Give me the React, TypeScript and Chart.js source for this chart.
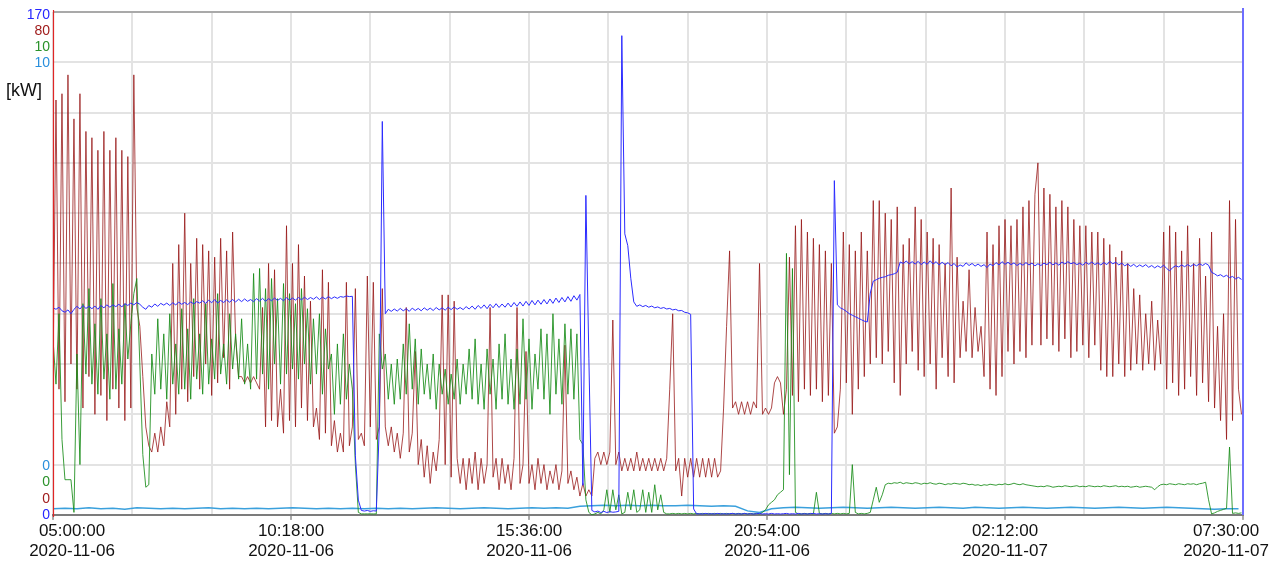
import React, { useEffect, useRef } from 'react';
import { Chart, registerables } from 'chart.js';

Chart.register(...registerables);

// time axis: minutes after 2020-11-06 05:00:00
const X_MAX_MIN = 1590;
const GRID_STEP_MIN = 106;
const LABEL_STEP_MIN = 318;
const STEP_MIN = 4; // sampling of red / green / blue series
const LB_STEP_MIN = 16; // sampling of light blue series

const TIME_LABELS = ['05:00:00', '10:18:00', '15:36:00', '20:54:00', '02:12:00', '07:30:00'];
const DATE_LABELS = ['2020-11-06', '2020-11-06', '2020-11-06', '2020-11-06', '2020-11-07', '2020-11-07'];

// axis ranges [blue, red, green, light blue]
const AXIS_IDS = ['yB', 'yR', 'yG', 'yL'];
const AXIS_MAX = [170, 80, 10, 10];
const AXIS_MIN = [0, 0, 0, 0];
const AXIS_COLORS = ['#2626ff', '#a01c1c', '#2a922a', '#2a8fdc'];

const RED = [
  22, 66, 20, 67, 18, 70, 24, 63, 20, 67,
  17, 61, 22, 60, 16, 58, 19, 61, 15, 58,
  20, 60, 17, 58, 15, 57, 17, 70, 33, 30,
  22, 14, 11, 10, 13, 10, 14, 11, 18, 14,
  40, 16, 43, 20, 48, 18, 40, 22, 44, 20,
  43, 24, 42, 19, 41, 21, 44, 25, 42, 20,
  45, 28, 22, 22, 21, 22, 21, 22, 21, 20,
  33, 14, 40, 15, 39, 14, 20, 13, 46, 15,
  40, 14, 43, 17, 38, 15, 34, 14, 17, 12,
  39, 13, 37, 11, 15, 10, 13, 10, 37, 11,
  14, 36, 12, 13, 11, 38, 14, 37, 12, 14,
  36, 14, 11, 14, 10, 13, 9, 13, 33, 10,
  13, 26, 8, 12, 6, 11, 5, 10, 7, 12,
  35, 8, 35, 6, 34, 9, 5, 9, 4, 9,
  5, 10, 4, 9, 5, 8, 33, 6, 9, 4,
  9, 5, 8, 4, 9, 33, 5, 8, 26, 5,
  8, 4, 9, 5, 8, 4, 7, 5, 8, 4,
  7, 27, 5, 7, 4, 6, 3, 5, 3, 4,
  3, 9, 10, 8, 10, 8, 10, 31, 8, 10,
  7, 9, 7, 9, 7, 10, 7, 9, 7, 9,
  7, 9, 7, 9, 7, 9, 20, 32, 7, 9,
  3, 9, 6, 9, 6, 9, 6, 9, 6, 9,
  6, 9, 6, 7, 17, 30, 42, 17, 18, 16,
  18, 16, 18, 16, 18, 17, 40, 16, 17, 16,
  17, 21, 22, 21, 16, 20, 41, 19, 46, 18,
  47, 20, 45, 19, 44, 20, 43, 18, 42, 19,
  40, 13, 14, 20, 45, 21, 43, 16, 42, 20,
  45, 22, 42, 24, 50, 25, 50, 24, 48, 26,
  47, 21, 49, 19, 43, 24, 44, 26, 49, 23,
  47, 22, 45, 24, 44, 20, 43, 25, 40, 22,
  52, 21, 41, 25, 34, 26, 39, 25, 33, 26,
  30, 22, 45, 20, 43, 19, 46, 22, 47, 26,
  46, 24, 47, 26, 49, 25, 50, 27, 51, 56,
  27, 52, 28, 51, 27, 49, 26, 50, 28, 49,
  25, 47, 26, 46, 27, 46, 25, 45, 27, 45,
  23, 44, 22, 43, 22, 41, 24, 42, 22, 40,
  23, 36, 24, 35, 23, 32, 24, 34, 23, 31,
  24, 45, 20, 46, 21, 45, 19, 42, 20, 46,
  22, 40, 19, 44, 21, 38, 18, 45, 17, 30,
  15, 32, 12, 50, 15, 47, 20, 16,
];

const GREEN = [
  3.5, 2.6, 4.0, 1.5, 0.7, 0.7, 0.7, 0.05, 3.2, 1.0,
  4.2, 2.8, 4.5, 2.6, 3.8, 2.4, 4.3, 2.7, 3.6, 2.3,
  4.6, 2.5, 3.7, 2.6, 4.2, 3.1, 3.8, 4.4, 4.7, 3.0,
  1.2, 0.55, 0.6, 3.2, 2.4, 3.9, 2.5, 3.6, 2.3, 4.0,
  2.6, 3.4, 2.4, 4.1, 2.5, 3.7, 2.3, 4.3, 2.7, 3.6,
  2.4, 4.2, 2.6, 3.5, 2.7, 4.4, 2.8, 3.4, 2.6, 4.0,
  2.9, 3.6, 2.7, 3.9, 2.6, 3.4, 2.5, 4.8, 2.7, 4.9,
  2.8, 4.5, 2.5, 4.7, 3.0, 4.3, 2.6, 4.6, 2.8, 4.4,
  2.9, 4.2, 2.7, 4.5, 3.0, 4.1, 2.6, 3.9, 2.8, 4.0,
  2.4, 3.7, 2.9, 3.2, 2.0, 3.4, 2.2, 3.6, 2.3, 3.0,
  2.5, 1.0, 0.05, 0.02, 0.02, 0.02, 0.02, 0.02, 0.02, 3.6,
  2.9, 3.2, 2.3, 3.0, 2.2, 3.1, 2.3, 3.4, 2.4, 3.8,
  2.5, 3.5, 2.2, 3.3, 2.4, 3.0, 2.3, 3.2, 2.1, 3.0,
  2.4, 2.9, 2.2, 2.8, 2.3, 3.1, 2.2, 3.0, 2.4, 3.3,
  2.3, 3.5, 2.2, 3.0, 2.1, 3.3, 2.4, 3.1, 2.1, 3.4,
  2.3, 3.6, 2.2, 3.1, 2.1, 3.3, 2.2, 3.9, 2.3, 3.5,
  2.1, 3.2, 2.5, 3.7, 2.3, 3.6, 2.0, 4.0, 2.4, 3.5,
  2.2, 3.8, 2.4, 3.7, 2.3, 3.6, 1.5, 1.4, 0.3, 0.05,
  0.0, 0.02, 0.05, 0.02, 0.1, 0.5, 0.05, 0.5, 0.1, 0.4,
  0.02, 0.05, 0.45, 0.1, 0.5, 0.05, 0.1, 0.5, 0.05, 0.45,
  0.05, 0.6, 0.1, 0.4, 0.05, 0.02, 0.02, 0.03, 0.02, 0.03,
  0.02, 0.03, 0.02, 0.03, 0.02, 0.03, 0.02, 0.03, 0.02, 0.03,
  0.02, 0.03, 0.02, 0.03, 0.02, 0.03, 0.02, 0.03, 0.02, 0.03,
  0.02, 0.03, 0.02, 0.03, 0.02, 0.03, 0.02, 0.05, 0.1, 0.2,
  0.25, 0.3, 0.4, 0.45, 0.5, 5.2, 0.8, 4.9, 0.05, 0.02,
  0.02, 0.03, 0.02, 0.03, 0.02, 0.45, 0.03, 0.02, 0.03, 0.02,
  0.03, 0.02, 0.03, 0.02, 0.03, 0.02, 0.03, 1.0, 0.05, 0.02,
  0.03, 0.02, 0.03, 0.05, 0.3, 0.55, 0.25, 0.4, 0.6, 0.63,
  0.62, 0.64, 0.63, 0.65, 0.62, 0.64, 0.63, 0.62, 0.64, 0.63,
  0.61, 0.63, 0.62, 0.64, 0.62, 0.61, 0.63, 0.62, 0.6, 0.62,
  0.61, 0.63, 0.62, 0.61, 0.63, 0.62, 0.6, 0.61, 0.59, 0.6,
  0.58, 0.6, 0.59, 0.61, 0.6, 0.59, 0.61, 0.6, 0.62, 0.6,
  0.61, 0.63, 0.61, 0.6, 0.62, 0.6, 0.59, 0.58, 0.57, 0.56,
  0.57, 0.56, 0.58, 0.57, 0.55, 0.56, 0.57, 0.56, 0.58, 0.57,
  0.56, 0.57, 0.58, 0.56, 0.57, 0.56, 0.58, 0.57, 0.56, 0.57,
  0.56, 0.58, 0.57, 0.56, 0.57, 0.58, 0.56, 0.57, 0.56, 0.57,
  0.55, 0.56, 0.57, 0.55, 0.56, 0.57, 0.56, 0.55, 0.5, 0.56,
  0.6, 0.61, 0.6, 0.62, 0.61, 0.6, 0.62, 0.61, 0.6, 0.62,
  0.61, 0.62, 0.6, 0.62, 0.63, 0.65, 0.3, 0.02, 0.04, 0.07,
  0.09, 0.11, 0.13, 1.35, 0.03, 0.04, 0.03, 0.04,
];

const BLUE = [
  70, 69.5, 70.2, 69, 68.5, 69.3, 68, 69.5, 70.5, 69.6,
  70.8, 69.8, 70.5, 69.7, 70.6, 69.5, 70.8, 70, 71, 70.2,
  71, 70.4, 71.2, 70.3, 71.4, 70.8, 71.6, 71, 71.8, 71.2,
  70.2, 69.5, 70.8, 70.2, 71.3, 70.5, 71.5, 70.9, 71.6, 70.8,
  71.7, 71, 71.9, 71.2, 71.8, 71.1, 72, 71.3, 72.1, 71.6,
  72.4, 71.5, 72.6, 71.7, 72.8, 71.6, 72.5, 71.8, 72.7, 71.9,
  72.8, 72, 72.9, 72.1, 73, 72.2, 72.8, 72.1, 73.1, 72.3,
  73.2, 72.2, 73.1, 72.4, 73.3, 72.5, 73.2, 72.4, 73.4, 72.6,
  73.3, 72.6, 73.5, 72.7, 73.6, 72.8, 73.5, 72.9, 73.7, 72.8,
  73.6, 73, 73.8, 73.1, 73.7, 73.2, 73.8, 73.6, 74, 73.8,
  73.9, 20, 5, 1.5, 1.3, 1.5, 1.2, 1.4, 1.3, 30,
  133, 68, 69.5, 68.8, 69.6, 68.9, 69.8, 69, 69.7, 68.8,
  69.9, 69.1, 69.8, 69, 70, 69.2, 69.9, 69.1, 70.1, 69.3,
  70, 69.2, 70.2, 69.4, 70.3, 69.5, 70.1, 69.4, 70.4, 69.6,
  70.6, 69.5, 70.8, 69.8, 71, 69.7, 71.2, 70, 71.4, 70.1,
  71.3, 70.2, 71.6, 70.3, 71.8, 70.5, 72, 70.6, 72.2, 70.8,
  72.5, 71, 72.6, 71.2, 72.8, 71.3, 73, 71.5, 73.3, 71.8,
  73.5, 72, 73.8, 72.2, 74.1, 72.6, 74.5, 10, 108, 53,
  1.5, 1.0, 1.3, 0.8, 1.2, 0.8, 1.1, 0.9, 1.0, 1.2,
  162, 95, 91, 80, 72, 70.5, 71, 70.4, 70.8, 70.2,
  70.6, 70, 70.3, 69.8, 70.1, 69.6, 69.8, 69.3, 69.5, 69,
  69.1, 68.5, 68.3, 67.8, 2, 0.3, 0.4, 0.3, 0.5, 0.3,
  0.4, 0.3, 0.5, 0.3, 0.4, 0.3, 0.4, 0.5, 0.3, 0.4,
  0.3, 0.5, 0.3, 0.4, 0.3, 0.4, 0.5, 0.3, 0.4, 0.3,
  0.5, 0.3, 0.4, 0.3, 0.4, 0.5, 0.3, 0.4, 0.3, 0.5,
  0.3, 0.4, 0.3, 0.4, 0.5, 0.3, 0.4, 0.3, 0.4, 0.3,
  0.5, 113, 71, 70, 69.5, 68.8, 68, 67.5, 67, 66.5,
  66, 65.5, 65.2, 75, 79, 79.5, 80, 80.3, 80.5, 81,
  81.2, 81.5, 82, 85.5, 85, 85.8, 84.9, 85.6, 84.8, 85.7,
  84.6, 85.5, 84.7, 85.9, 84.8, 85.6, 84.5, 85.4, 84.6, 85.3,
  84.2, 85, 83.8, 84.5, 84, 85.2, 84.3, 85, 84.1, 84.8,
  84, 84.6, 83.6, 84.8, 84.2, 85.3, 84.5, 85.6, 84.7, 85.4,
  84.6, 85.2, 84.3, 85, 84.4, 85.3, 84.5, 85.1, 84.2, 84.9,
  84.3, 85.1, 84.6, 85.4, 84.5, 85.2, 84.4, 85.5, 84.8, 85.6,
  84.9, 85.3, 84.6, 85.1, 84.4, 85.4, 84.7, 85.5, 84.6, 85.2,
  84.5, 85.3, 84.6, 85.7, 84.9, 85.4, 84.5, 85.1, 84.2, 84.8,
  84, 84.7, 83.8, 84.5, 83.9, 84.6, 83.7, 84.3, 83.5, 84.2,
  83.6, 84.4, 83.3, 82.5, 83.6, 84.2, 83.8, 84.5, 83.9, 84.6,
  84, 84.7, 84.2, 84.9, 84.3, 85, 84.4, 82, 81.5, 80.8,
  81.2, 80.5, 81, 80.2, 80.6, 79.8, 80.3, 79.6,
];

const LIGHT_BLUE = [
  0.12, 0.13, 0.12, 0.14, 0.12, 0.13, 0.11, 0.14, 0.13, 0.12,
  0.13, 0.12, 0.13, 0.14, 0.12, 0.13, 0.12, 0.13, 0.12, 0.13,
  0.14, 0.13, 0.12, 0.13, 0.12, 0.13, 0.12, 0.13, 0.12, 0.13,
  0.12, 0.13, 0.14, 0.13, 0.12, 0.13, 0.14, 0.13, 0.12, 0.13,
  0.14, 0.13, 0.14, 0.13, 0.17, 0.18, 0.19, 0.18, 0.19, 0.18,
  0.19, 0.18, 0.18, 0.19, 0.18, 0.17, 0.18, 0.17, 0.08, 0.05,
  0.12, 0.14, 0.15, 0.14, 0.13, 0.14, 0.15, 0.14, 0.13, 0.14,
  0.15, 0.14, 0.13, 0.14, 0.15, 0.14, 0.13, 0.15, 0.14, 0.13,
  0.14, 0.15, 0.14, 0.13, 0.14, 0.15, 0.14, 0.13, 0.14, 0.15,
  0.14, 0.13, 0.14, 0.15, 0.14, 0.13, 0.12, 0.11, 0.12, 0.12,
];

const toPoints = (vals: number[], step: number) => vals.map((v, i) => ({ x: i * step, y: v }));

const FONT = '"Liberation Sans", Arial, sans-serif';
const TICK_FONT_SIZE = 17;
const TICK_LINE_HEIGHT = 1.15;

const framePlugin = {
  id: 'frame',
  afterDatasetsDraw(chart: any) {
    const { ctx, chartArea: a } = chart;
    ctx.save();
    ctx.strokeStyle = '#a9a9a9';
    ctx.lineWidth = 2;
    ctx.beginPath();
    ctx.moveTo(a.left, a.top);
    ctx.lineTo(a.right, a.top);
    ctx.stroke();
    ctx.strokeStyle = '#e02626';
    ctx.lineWidth = 1.2;
    ctx.beginPath();
    ctx.moveTo(a.left + 0.5, a.top - 2);
    ctx.lineTo(a.left + 0.5, a.bottom + 2);
    ctx.stroke();
    ctx.strokeStyle = '#6e6eff';
    ctx.lineWidth = 2;
    ctx.beginPath();
    ctx.moveTo(a.right, a.top - 4);
    ctx.lineTo(a.right, a.bottom);
    ctx.stroke();
    ctx.restore();
  },
  afterDraw(chart: any) {
    const { ctx, chartArea: a } = chart;
    ctx.save();
    ctx.font = `14px ${FONT}`;
    ctx.textAlign = 'right';
    ctx.textBaseline = 'middle';
    const x = a.left - 3;
    AXIS_IDS.forEach((id, k) => {
      const s = chart.scales[id];
      ctx.fillStyle = AXIS_COLORS[k];
      ctx.fillText(String(s.max), x, a.top + 3 + k * 16);
    });
    const bottomOrder = [3, 2, 1, 0];
    bottomOrder.forEach((k, j) => {
      const s = chart.scales[AXIS_IDS[k]];
      ctx.fillStyle = AXIS_COLORS[k];
      ctx.fillText(String(s.min), x, a.bottom - 49 + j * 16.5);
    });
    ctx.fillStyle = '#111';
    ctx.font = `18px ${FONT}`;
    ctx.textAlign = 'left';
    ctx.fillText('[kW]', 6, 91);

    // first and last time labels are kept inside the canvas (shifted inward)
    const xs = chart.scales.x;
    const lh = TICK_FONT_SIZE * TICK_LINE_HEIGHT;
    const top = a.bottom + 5 + 2;
    ctx.font = `${TICK_FONT_SIZE}px ${FONT}`;
    ctx.fillStyle = '#111';
    ctx.textAlign = 'center';
    const edges = [
      { idx: 0, shift: 19 },
      { idx: TIME_LABELS.length - 1, shift: -17 },
    ];
    edges.forEach(({ idx, shift }) => {
      const px = xs.getPixelForValue(idx * LABEL_STEP_MIN) + shift;
      ctx.fillText(TIME_LABELS[idx], px, top + lh / 2);
      ctx.fillText(DATE_LABELS[idx], px, top + lh * 1.5);
    });
    ctx.restore();
  },
};

export default function App() {
  const ref = useRef<HTMLCanvasElement | null>(null);

  useEffect(() => {
    if (!ref.current) return;
    const gridColor = '#e3e3e3';
    const lastTickValue = (TIME_LABELS.length - 1) * LABEL_STEP_MIN;
    const chart = new Chart(ref.current, {
      type: 'line',
      data: {
        datasets: [
          {
            label: 'blue',
            data: toPoints(BLUE, STEP_MIN),
            yAxisID: 'yB',
            borderColor: '#2b2bff',
            borderWidth: 1,
            pointRadius: 0,
            order: 0,
          },
          {
            label: 'green',
            data: toPoints(GREEN, STEP_MIN),
            yAxisID: 'yG',
            borderColor: 'rgba(24,140,24,0.85)',
            borderWidth: 1,
            pointRadius: 0,
            order: 1,
          },
          {
            label: 'red',
            data: toPoints(RED, STEP_MIN),
            yAxisID: 'yR',
            borderColor: 'rgba(150,20,20,0.78)',
            borderWidth: 1,
            pointRadius: 0,
            order: 2,
          },
          {
            label: 'lightblue',
            data: toPoints(LIGHT_BLUE, LB_STEP_MIN),
            yAxisID: 'yL',
            borderColor: '#3aa0dc',
            borderWidth: 1.5,
            pointRadius: 0,
            order: 3,
          },
        ],
      },
      options: {
        responsive: false,
        animation: false,
        devicePixelRatio: 1,
        layout: { padding: { left: 53, right: 35, top: 12, bottom: 4 } },
        plugins: { legend: { display: false }, tooltip: { enabled: false } },
        elements: { line: { tension: 0 } },
        scales: {
          x: {
            type: 'linear',
            min: 0,
            max: X_MAX_MIN,
            afterBuildTicks: (scale: any) => {
              const t = [];
              for (let v = 0; v <= X_MAX_MIN; v += GRID_STEP_MIN) t.push({ value: v });
              scale.ticks = t;
            },
            afterFit: (scale: any) => {
              scale.paddingLeft = 0;
              scale.paddingRight = 0;
            },
            ticks: {
              autoSkip: false,
              maxRotation: 0,
              minRotation: 0,
              padding: 2,
              color: (c: any) =>
                c.tick && (c.tick.value === 0 || c.tick.value === lastTickValue) ? 'rgba(0,0,0,0)' : '#111',
              font: { family: FONT, size: TICK_FONT_SIZE, lineHeight: TICK_LINE_HEIGHT },
              callback: (value: any) => {
                const v = Number(value);
                if (v % LABEL_STEP_MIN !== 0) return '';
                const idx = v / LABEL_STEP_MIN;
                return [TIME_LABELS[idx], DATE_LABELS[idx]];
              },
            },
            grid: {
              color: gridColor,
              lineWidth: 2,
              drawTicks: true,
              tickLength: 5,
              tickColor: (c: any) =>
                c.tick && c.tick.value % LABEL_STEP_MIN === 0 ? '#555' : 'rgba(0,0,0,0)',
              tickWidth: 1,
            },
            border: { color: '#7c7c7c', width: 2 },
          },
          yR: {
            type: 'linear',
            position: 'left',
            min: AXIS_MIN[1],
            max: AXIS_MAX[1],
            ticks: { display: false, stepSize: AXIS_MAX[1] / 10 },
            grid: { color: gridColor, lineWidth: 2, drawTicks: false },
            border: { display: false },
            afterFit: (scale: any) => {
              scale.width = 0;
            },
          },
          yB: { type: 'linear', display: false, min: AXIS_MIN[0], max: AXIS_MAX[0] },
          yG: { type: 'linear', display: false, min: AXIS_MIN[2], max: AXIS_MAX[2] },
          yL: { type: 'linear', display: false, min: AXIS_MIN[3], max: AXIS_MAX[3] },
        },
      } as any,
      plugins: [framePlugin],
    });
    return () => chart.destroy();
  }, []);

  return (
    <div style={{ position: 'fixed', left: 0, top: 0, width: 1278, height: 567, background: '#fff' }}>
      <canvas ref={ref} width={1278} height={567} style={{ display: 'block' }} />
    </div>
  );
}
